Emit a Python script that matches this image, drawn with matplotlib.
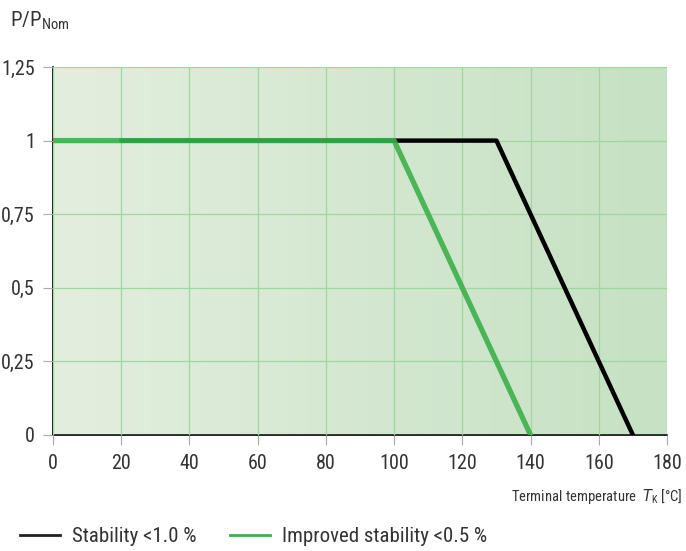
import matplotlib.pyplot as plt
import numpy as np
from matplotlib.colors import LinearSegmentedColormap
from matplotlib.lines import Line2D

plt.rcParams['font.family'] = ['Liberation Sans Narrow', 'DejaVu Sans Condensed',
                               'Roboto Condensed', 'Roboto', 'DejaVu Sans']

# data
std_temp = [20, 130, 170]
std_power = [1, 1, 0]
imp_temp = [0, 100, 140]
imp_power = [1, 1, 0]
x_ticks = [0, 20, 40, 60, 80, 100, 120, 140, 160, 180]
y_ticks = [0, 0.25, 0.5, 0.75, 1, 1.25]
y_labels = ['0', '0,25', '0,5', '0,75', '1', '1,25']

fig = plt.figure(figsize=(6.86, 5.51), dpi=100)
ax = fig.add_axes([53 / 686, 1 - 435 / 551, 614 / 686, 368 / 551])

# background gradient
cmap = LinearSegmentedColormap.from_list('bg', ['#e3eedf', '#c6e1c3'])
grad = np.linspace(0, 1, 256).reshape(1, -1)
ax.imshow(grad, cmap=cmap, extent=[0, 180, 0, 1.25], aspect='auto', zorder=0)

ax.set_xlim(0, 180)
ax.set_ylim(0, 1.25)
ax.set_xticks(x_ticks)
ax.set_yticks(y_ticks)
ax.set_yticklabels(y_labels)
ax.grid(True, color='#9fd89f', linewidth=0.9, zorder=1)
ax.set_axisbelow(False)

ax.plot(std_temp, std_power, color='black', linewidth=3.2, zorder=3,
        solid_capstyle='round')
ax.plot(imp_temp, imp_power, color='#3cb04a', linewidth=3.8, alpha=0.9, zorder=4,
        solid_capstyle='round')

for s in ['top', 'right']:
    ax.spines[s].set_visible(False)
ax.spines['left'].set_linewidth(1.2)
ax.spines['bottom'].set_linewidth(1.2)
ax.tick_params(axis='both', length=7, color='#aaaaaa', labelsize=14.5,
               labelcolor='#333333', direction='out')
ax.tick_params(axis='x', pad=7)
ax.tick_params(axis='y', pad=6)

fig.text(10 / 686, 1 - 21 / 551, 'P/P$_{\\mathregular{Nom}}$', fontsize=15,
         color='#333333', va='center', ha='left')
fig.text(1 - 3 / 686, 1 - 497 / 551, 'Terminal temperature  $\\mathit{T}_{\\mathregular{K}}$ [°C]',
         fontsize=10.5, color='#333333', va='center', ha='right')

handles = [Line2D([], [], color='#222222', linewidth=2),
           Line2D([], [], color='#3cb04a', linewidth=2)]
fig.legend(handles, ['Stability <1.0 %', 'Improved stability <0.5 %'],
           loc='center left', bbox_to_anchor=(12 / 686, 1 - 537 / 551), ncol=2,
           frameon=False, fontsize=15, handlelength=1.9, columnspacing=1.6,
           handletextpad=0.6, labelcolor='#333333', borderaxespad=0)

fig.savefig('out.png', dpi=100)
